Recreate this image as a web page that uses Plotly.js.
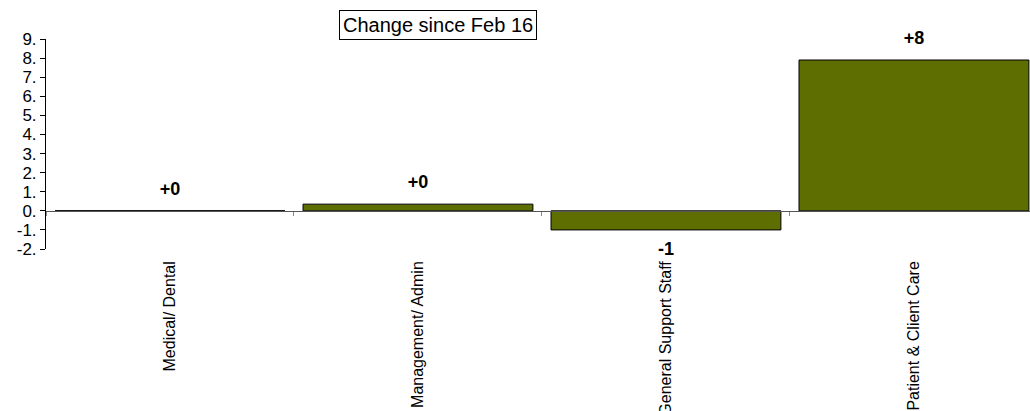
<!DOCTYPE html>
<html><head><meta charset="utf-8">
<script src="https://cdn.plot.ly/plotly-3.0.1.min.js"></script>
<style>html,body{margin:0;padding:0;background:#fff}#chart{width:1030px;height:411px}</style>
</head><body><div id="chart"></div>
<script>
const categories = ["Medical/ Dental", "Management/ Admin", "General Support Staff", "Patient & Client Care"];
const changeValues = [0, 0.35, -1.0, 7.9];
const changeLabels = ["+0", "+0", "-1", "+8"];
const yTickValues = [9, 8, 7, 6, 5, 4, 3, 2, 1, 0, -1, -2];
const yTickLabels = yTickValues.map(v => v + ".");
const chartTitle = "Change since Feb 16";

const font = "Liberation Sans, Arial, sans-serif";
const barTrace = {
  type: "bar", x: categories, y: changeValues,
  marker: {color: "#5E6E00", line: {color: "#000", width: 1}},
  hoverinfo: "skip"
};
const labelTrace = {
  type: "scatter", mode: "markers+text", x: categories, y: changeValues,
  text: changeLabels,
  textposition: changeValues.map(v => v < 0 ? "bottom center" : "top center"),
  textfont: {family: font, size: 18, color: "#000", weight: "bold"},
  marker: {size: 17, opacity: 0}, cliponaxis: false,
  hoverinfo: "skip", showlegend: false
};
const axisTrace = {
  type: "scatter", mode: "none", x: categories, y: changeValues,
  xaxis: "x2", yaxis: "y", hoverinfo: "skip", showlegend: false
};
const xRange = [-0.5, 3.468];
const layout = {
  width: 1030, height: 411, showlegend: false,
  margin: {l: 46, r: 0, t: 39, b: 162},
  paper_bgcolor: "#fff", plot_bgcolor: "#fff",
  bargap: 0.073,
  font: {family: font, size: 16, color: "#000"},
  xaxis: {type: "category", range: xRange, showline: false, ticks: "",
          tickangle: -90, showgrid: false, zeroline: false, ticklabelstandoff: 8,
          tickfont: {family: font, size: 16, color: "#000"}},
  xaxis2: {type: "category", overlaying: "x", anchor: "free",
           position: 2/11, range: xRange, showticklabels: false,
           showline: true, linecolor: "#555", linewidth: 1,
           ticks: "outside", tickson: "boundaries", ticklen: 4,
           tickcolor: "#888", showgrid: false, zeroline: false},
  yaxis: {range: [-2, 9], tickvals: yTickValues, ticktext: yTickLabels,
          showline: true, linecolor: "#000", linewidth: 1, ticks: "outside",
          ticklen: 5, tickcolor: "#000", showgrid: false, zeroline: false,
          tickfont: {family: font, size: 17, color: "#000"}},
  annotations: [{text: chartTitle, xref: "paper", yref: "paper",
                 x: 0.398, y: 1.067, xanchor: "center", yanchor: "middle",
                 showarrow: false,
                 font: {family: font, size: 20, color: "#000"},
                 bordercolor: "#000", borderwidth: 1, borderpad: 3,
                 bgcolor: "#fff"}]
};
Plotly.newPlot("chart", [barTrace, labelTrace, axisTrace], layout, {displayModeBar: false, staticPlot: true});
</script></body></html>
